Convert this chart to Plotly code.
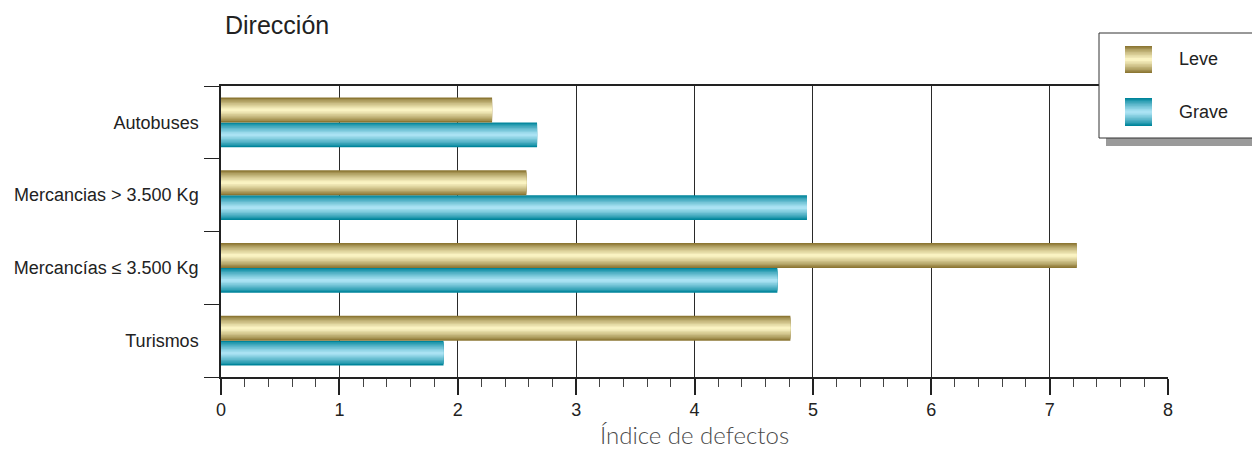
import plotly.graph_objects as go

# ---- data ----
categories = ["Turismos", "Mercancías ≤ 3.500 Kg", "Mercancias > 3.500 Kg", "Autobuses"]
leve = [4.81, 7.23, 2.58, 2.29]
grave = [1.88, 4.70, 4.95, 2.67]
x_ticks = [0, 1, 2, 3, 4, 5, 6, 7, 8]

# ---- styling ----
W = 0.342          # bar thickness in category units
N = 9              # gradient layers
GOLD_EDGE, GOLD_MID = (0x8c, 0x77, 0x34), (0xfa, 0xf3, 0xc2)
BLUE_EDGE, BLUE_MID = (0x00, 0x85, 0x9b), (0xaa, 0xe2, 0xf3)
FONT = "Liberation Sans, Arial, Helvetica"


def mix(a, b, t):
    return "rgb(%d,%d,%d)" % tuple(round(a[i] + (b[i] - a[i]) * t) for i in range(3))


fig = go.Figure()


def add_series(name, values, base_offset, edge, mid):
    for k in range(N):
        t = (k / (N - 1)) ** 0.8
        width = W * (1 - k / N)
        offset = base_offset + W * k / (2 * N)
        fig.add_trace(go.Bar(
            y=categories, x=values, orientation="h", name=name,
            width=width, offset=offset,
            marker=dict(color=mix(edge, mid, t), line=dict(width=0)),
            showlegend=False,
            hoverinfo="x+name" if k == 0 else "skip",
        ))


add_series("Grave", grave, -W, BLUE_EDGE, BLUE_MID)
add_series("Leve", leve, 0.0, GOLD_EDGE, GOLD_MID)

# ---- custom legend (box, shadow, gradient swatches) ----
def px(xp):
    return (xp - 221) / 947


def py(yp):
    return (377 - yp) / 291


shapes = []
shapes.append(dict(type="rect", xref="paper", yref="paper", layer="above",
                   x0=px(1106), x1=px(1262), y0=py(146), y1=py(130),
                   fillcolor="#9a9a9a", line=dict(width=0)))
shapes.append(dict(type="rect", xref="paper", yref="paper", layer="above",
                   x0=px(1099), x1=px(1256), y0=py(138), y1=py(33),
                   fillcolor="white", line=dict(color="#333333", width=1)))


def swatch(ytop, ybot, edge, mid):
    h = ybot - ytop
    for k in range(N):
        t = (k / (N - 1)) ** 0.8
        inset = h * k / (2 * N)
        shapes.append(dict(type="rect", xref="paper", yref="paper", layer="above",
                           x0=px(1125), x1=px(1152),
                           y0=py(ybot - inset), y1=py(ytop + inset),
                           fillcolor=mix(edge, mid, t), line=dict(width=0)))


swatch(46, 73, GOLD_EDGE, GOLD_MID)
swatch(98, 126, BLUE_EDGE, BLUE_MID)

annotations = [
    dict(text="Leve", xref="paper", yref="paper", x=px(1177), y=py(59),
         xanchor="left", yanchor="middle", showarrow=False,
         font=dict(family=FONT, size=18, color="#222222")),
    dict(text="Grave", xref="paper", yref="paper", x=px(1177), y=py(112),
         xanchor="left", yanchor="middle", showarrow=False,
         font=dict(family=FONT, size=18, color="#222222")),
]

fig.update_layout(
    width=1252, height=450,
    margin=dict(l=221, r=84, t=86, b=73, autoexpand=False),
    paper_bgcolor="white", plot_bgcolor="white",
    barmode="overlay",
    showlegend=False,
    shapes=shapes,
    annotations=annotations,
    title=dict(text="Dirección", x=225 / 1252, xanchor="left", xref="container",
               y=1 - 25 / 450, yanchor="middle",
               font=dict(family=FONT, size=25, color="#222222")),
    xaxis=dict(
        range=[0, 8], tickvals=x_ticks, ticktext=[str(v) for v in x_ticks],
        showgrid=True, gridcolor="#2a2a2a", gridwidth=1.3,
        showline=True, linecolor="#222222", linewidth=1.5, mirror=True,
        ticks="outside", ticklen=16, tickcolor="#222222", tickwidth=1.5,
        minor=dict(dtick=0.2, ticks="outside", ticklen=8, tickcolor="#444444",
                   tickwidth=1, showgrid=False),
        zeroline=False,
        tickfont=dict(family=FONT, size=18, color="#222222"),
        title=dict(text="Índice de defectos", standoff=8,
                   font=dict(family="Lato, Open Sans", size=24, color="#4a4a4a", weight=300)),
        fixedrange=True,
    ),
    yaxis=dict(
        type="category", categoryorder="array", categoryarray=categories,
        range=[-0.5, 3.5],
        showgrid=False, showline=True, linecolor="#222222", linewidth=1.5,
        ticks="outside", ticklen=15, tickcolor="#222222", tickwidth=1.2,
        tickson="boundaries", ticklabelstandoff=17,
        tickfont=dict(family=FONT, size=18, color="#222222"),
        fixedrange=True,
    ),
)

fig.write_html(
    "out.html",
    config={"displayModeBar": False},
    post_script="document.body.style.margin='0';document.body.style.overflow='hidden';",
)
